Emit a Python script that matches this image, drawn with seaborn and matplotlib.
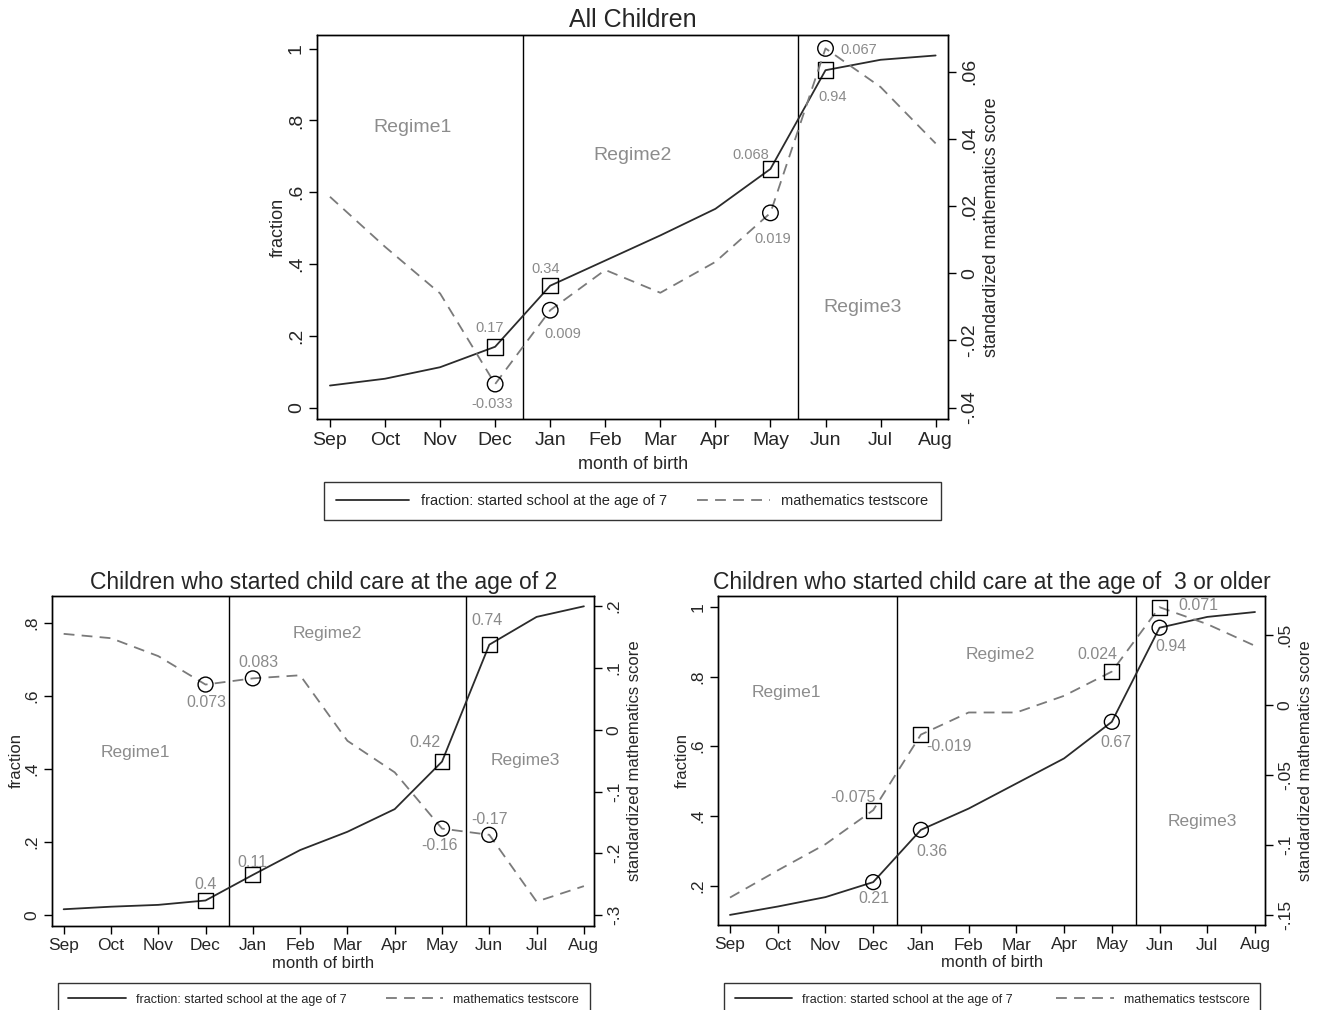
import matplotlib
matplotlib.use("Agg")
import matplotlib.pyplot as plt
from matplotlib import font_manager
from matplotlib.lines import Line2D
import seaborn as sns
import pandas as pd

# ---- data -------------------------------------------------------------
months = ["Sep", "Oct", "Nov", "Dec", "Jan", "Feb", "Mar", "Apr", "May", "Jun", "Jul", "Aug"]

# All children
all_fraction = [0.062, 0.081, 0.113, 0.17, 0.34, 0.410, 0.480, 0.554, 0.665, 0.94, 0.969, 0.981]
all_math = [0.0228, 0.0079, -0.006, -0.033, -0.011, 0.001, -0.0058, 0.0034, 0.018, 0.067, 0.0555, 0.0387]

# Children who started child care at the age of 2
age2_fraction = [0.016, 0.023, 0.028, 0.04, 0.11, 0.178, 0.228, 0.290, 0.42, 0.74, 0.816, 0.845]
age2_math = [0.155, 0.148, 0.119, 0.073, 0.083, 0.088, -0.018, -0.069, -0.16, -0.17, -0.278, -0.253]

# Children who started child care at the age of 3 or older
age3_fraction = [0.116, 0.140, 0.167, 0.21, 0.36, 0.421, 0.493, 0.565, 0.67, 0.94, 0.971, 0.985]
age3_math = [-0.1374, -0.118, -0.0993, -0.075, -0.021, -0.0052, -0.0052, 0.0067, 0.024, 0.070, 0.0579, 0.0424]

# months that carry a marker and a value label
marked_months = ["Dec", "Jan", "May", "Jun"]

left_ticks_all = [0, 0.2, 0.4, 0.6, 0.8, 1.0]
left_labels_all = ["0", ".2", ".4", ".6", ".8", "1"]
right_ticks_all = [-0.04, -0.02, 0, 0.02, 0.04, 0.06]
right_labels_all = ["-.04", "-.02", "0", ".02", ".04", ".06"]

left_ticks_age2 = [0, 0.2, 0.4, 0.6, 0.8]
left_labels_age2 = ["0", ".2", ".4", ".6", ".8"]
right_ticks_age2 = [-0.3, -0.2, -0.1, 0, 0.1, 0.2]
right_labels_age2 = ["-.3", "-.2", "-.1", "0", ".1", ".2"]

left_ticks_age3 = [0.2, 0.4, 0.6, 0.8, 1.0]
left_labels_age3 = [".2", ".4", ".6", ".8", "1"]
right_ticks_age3 = [-0.15, -0.1, -0.05, 0, 0.05]
right_labels_age3 = ["-.15", "-.1", "-.05", "0", ".05"]

legend_labels = ["fraction: started school at the age of 7", "mathematics testscore"]

# ---- style ------------------------------------------------------------
sns.set_theme(style="ticks")
available = {f.name for f in font_manager.fontManager.ttflist}
main_font = "Liberation Sans Narrow" if "Liberation Sans Narrow" in available else "Liberation Sans"
plt.rcParams["font.family"] = [main_font, "DejaVu Sans"]
plt.rcParams["axes.linewidth"] = 1.0
plt.rcParams["axes.edgecolor"] = "black"

SOLID = "#2b2b2b"
DASHED = "#7a7a7a"
GREY_TXT = "#8a8a8a"
REGIME_TXT = "#8c8c8c"

fig = plt.figure(figsize=(13.25, 10.10), dpi=100)
fig.patch.set_facecolor("white")


def draw_panel(rect, title, fraction, math, frac_marker, math_marker,
               ylim_left, ylim_right, lticks, llabels, rticks, rlabels,
               xlim, notes, regimes, fs):
    ax = fig.add_axes(rect)
    ax2 = ax.twinx()
    idx = list(range(len(months)))
    df = pd.DataFrame({"m": idx, "fraction": fraction, "math": math, "month": months})

    sns.lineplot(data=df, x="m", y="fraction", ax=ax, color=SOLID, linewidth=1.3, zorder=3)
    sns.lineplot(data=df, x="m", y="math", ax=ax2, color=DASHED, linewidth=1.3,
                 linestyle=(0, (6, 4)), zorder=3)

    sub = df[df["month"].isin(marked_months)]
    sns.scatterplot(data=sub, x="m", y="fraction", ax=ax, marker=frac_marker, s=fs["marker"],
                    facecolor="none", edgecolor="black", linewidth=1.0, zorder=5)
    sns.scatterplot(data=sub, x="m", y="math", ax=ax2, marker=math_marker, s=fs["marker"],
                    facecolor="none", edgecolor="black", linewidth=1.0, zorder=5)

    for xv in (3.5, 8.5):
        ax.axvline(xv, color="black", linewidth=1.0, zorder=2)

    ax.set_xlim(*xlim)
    ax.set_ylim(*ylim_left)
    ax2.set_ylim(*ylim_right)
    ax.set_xticks(idx)
    ax.set_xticklabels(months, fontsize=fs["tick"])
    ax.set_yticks(lticks)
    ax.set_yticklabels(llabels, fontsize=fs["tick"], rotation=90, va="center")
    ax2.set_yticks(rticks)
    ax2.set_yticklabels(rlabels, fontsize=fs["tick"], rotation=90, va="center")
    for a in (ax, ax2):
        a.tick_params(axis="both", direction="out", length=6, width=1.0, color="black", pad=3)
        for s in a.spines.values():
            s.set_visible(True)
            s.set_color("black")
            s.set_linewidth(1.0)

    ax.set_xlabel("month of birth", fontsize=fs["label"], labelpad=fs["xpad"])
    ax.set_ylabel("fraction", fontsize=fs["label"], labelpad=1)
    ax2.set_ylabel("standardized mathematics score", fontsize=fs["label"], labelpad=4)
    ax.set_title(title, fontsize=fs["title"], pad=fs["tpad"])

    for (x, y, txt) in notes:
        ax.text(x, y, txt, color=GREY_TXT, fontsize=fs["note"], ha="center", va="center", zorder=6)
    for (x, y, txt) in regimes:
        ax.text(x, y, txt, color=REGIME_TXT, fontsize=fs["regime"], ha="center", va="center")
    return ax


top_fs = dict(tick=14, label=13, title=18, note=10.5, regime=14, marker=125, xpad=5, tpad=6)
bot_fs = dict(tick=12.5, label=12, title=16.5, note=11.5, regime=12.5, marker=115, xpad=2, tpad=5)

draw_panel(
    [317.3 / 1325, 1 - 419.3 / 1010, 631.0 / 1325, 384.3 / 1010],
    "All Children", all_fraction, all_math, "s", "o",
    (-0.032, 1.038), (-0.0435, 0.0710),
    left_ticks_all, left_labels_all, right_ticks_all, right_labels_all,
    (-0.23, 11.23),
    [(2.9, 0.223, "0.17"), (2.95, 0.011, "-0.033"), (3.92, 0.387, "0.34"),
     (4.22, 0.206, "0.009"), (7.64, 0.703, "0.068"), (8.04, 0.469, "0.019"),
     (9.13, 0.865, "0.94"), (9.61, 0.995, "0.067")],
    [(1.5, 0.78, "Regime1"), (5.5, 0.703, "Regime2"), (9.68, 0.28, "Regime3")],
    top_fs,
)

draw_panel(
    [52.3 / 1325, 1 - 925.7 / 1010, 542.0 / 1325, 330.0 / 1010],
    "Children who started child care at the age of 2", age2_fraction, age2_math, "s", "o",
    (-0.029, 0.874), (-0.317, 0.2167),
    left_ticks_age2, left_labels_age2, right_ticks_age2, right_labels_age2,
    (-0.24, 11.22),
    [(3.02, 0.583, "0.073"), (4.12, 0.692, "0.083"), (3.0, 0.085, "0.4"),
     (3.98, 0.144, "0.11"), (7.63, 0.472, "0.42"), (7.94, 0.19, "-0.16"),
     (9.0, 0.262, "-0.17"), (8.96, 0.805, "0.74")],
    [(1.51, 0.446, "Regime1"), (5.58, 0.771, "Regime2"), (9.76, 0.424, "Regime3")],
    bot_fs,
)

draw_panel(
    [718.3 / 1325, 1 - 925.0 / 1010, 547.0 / 1325, 329.0 / 1010],
    "Children who started child care at the age of  3 or older", age3_fraction, age3_math, "o", "s",
    (0.087, 1.031), (-0.157, 0.078),
    left_ticks_age3, left_labels_age3, right_ticks_age3, right_labels_age3,
    (-0.245, 11.216),
    [(2.57, 0.454, "-0.075"), (4.59, 0.599, "-0.019"), (7.7, 0.863, "0.024"),
     (9.82, 1.004, "0.071"), (3.02, 0.162, "0.21"), (4.24, 0.299, "0.36"),
     (8.09, 0.612, "0.67"), (9.23, 0.887, "0.94")],
    [(1.18, 0.754, "Regime1"), (5.66, 0.863, "Regime2"), (9.89, 0.384, "Regime3")],
    bot_fs,
)


def add_legend(x0, y_top, width, height, fsize, hlen):
    handles = [Line2D([], [], color=SOLID, linewidth=1.3),
               Line2D([], [], color=DASHED, linewidth=1.3, linestyle=(0, (6, 4)))]
    leg = fig.legend(handles, legend_labels, loc="center", ncol=2, mode="expand",
                     bbox_to_anchor=(x0 / 1325, 1 - (y_top + height) / 1010, width / 1325, height / 1010),
                     fontsize=fsize, frameon=True, fancybox=False, handlelength=hlen,
                     handletextpad=0.8, columnspacing=2.5, borderpad=0.85, borderaxespad=0)
    fr = leg.get_frame()
    fr.set_edgecolor("black")
    fr.set_linewidth(1.0)
    return leg


add_legend(324, 483, 617, 36, 10.5, 5.0)
add_legend(57.7, 981.7, 532, 36, 9, 4.6)
add_legend(724, 981.7, 536, 36, 9, 4.6)

fig.savefig("out.png", dpi=100, facecolor="white")
